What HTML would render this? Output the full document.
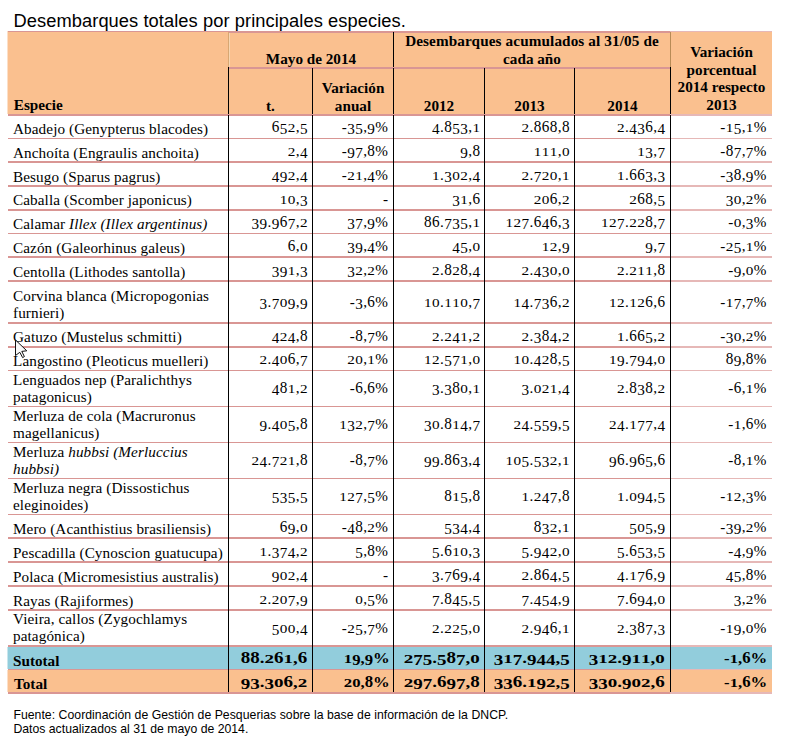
<!DOCTYPE html>
<html><head><meta charset="utf-8"><style>
html,body{margin:0;padding:0;background:#fff;width:785px;height:745px;overflow:hidden;position:relative}
.t{position:absolute;line-height:0;white-space:nowrap;font-family:'Liberation Serif', serif;font-size:15.2px;color:#000}
svg{position:absolute;left:0;top:0}
.ox{display:inline-block;transform:scaleY(0.8);transform-origin:50% 0.3375em}
.od{position:relative;top:0.15em}
.oa{display:inline-block;transform:scaleY(1.04);transform-origin:50% 0.3375em}
</style></head><body>
<svg width="785" height="745" shape-rendering="crispEdges">
<rect x="7.5" y="31" width="764.5" height="83" fill="#FAC08F" shape-rendering="auto"/>
<rect x="7.5" y="647" width="764.5" height="22" fill="#92CDDC" shape-rendering="auto"/>
<rect x="7.5" y="670" width="764.5" height="22" fill="#FAC08F" shape-rendering="auto"/>
<rect x="8" y="138" width="662" height="1" fill="#D99694"/>
<rect x="670" y="138" width="102" height="1" fill="#E6B8B7"/>
<rect x="8" y="161" width="662" height="2" fill="#D99694"/>
<rect x="670" y="161" width="102" height="2" fill="#E6B8B7"/>
<rect x="8" y="185" width="662" height="2" fill="#D99694"/>
<rect x="670" y="185" width="102" height="2" fill="#E6B8B7"/>
<rect x="8" y="209" width="662" height="2" fill="#D99694"/>
<rect x="670" y="209" width="102" height="2" fill="#E6B8B7"/>
<rect x="8" y="233" width="662" height="1" fill="#D99694"/>
<rect x="670" y="233" width="102" height="1" fill="#E6B8B7"/>
<rect x="8" y="256" width="662" height="2" fill="#D99694"/>
<rect x="670" y="256" width="102" height="2" fill="#E6B8B7"/>
<rect x="8" y="280" width="662" height="2" fill="#D99694"/>
<rect x="670" y="280" width="102" height="2" fill="#E6B8B7"/>
<rect x="8" y="322" width="662" height="2" fill="#D99694"/>
<rect x="670" y="322" width="102" height="2" fill="#E6B8B7"/>
<rect x="8" y="346" width="662" height="2" fill="#D99694"/>
<rect x="670" y="346" width="102" height="2" fill="#E6B8B7"/>
<rect x="8" y="370" width="662" height="1" fill="#D99694"/>
<rect x="670" y="370" width="102" height="1" fill="#E6B8B7"/>
<rect x="8" y="406" width="662" height="1" fill="#D99694"/>
<rect x="670" y="406" width="102" height="1" fill="#E6B8B7"/>
<rect x="8" y="442" width="662" height="1" fill="#D99694"/>
<rect x="670" y="442" width="102" height="1" fill="#E6B8B7"/>
<rect x="8" y="478" width="662" height="1" fill="#D99694"/>
<rect x="670" y="478" width="102" height="1" fill="#E6B8B7"/>
<rect x="8" y="514" width="662" height="1" fill="#D99694"/>
<rect x="670" y="514" width="102" height="1" fill="#E6B8B7"/>
<rect x="8" y="537" width="662" height="2" fill="#D99694"/>
<rect x="670" y="537" width="102" height="2" fill="#E6B8B7"/>
<rect x="8" y="561" width="662" height="2" fill="#D99694"/>
<rect x="670" y="561" width="102" height="2" fill="#E6B8B7"/>
<rect x="8" y="585" width="662" height="2" fill="#D99694"/>
<rect x="670" y="585" width="102" height="2" fill="#E6B8B7"/>
<rect x="8" y="609" width="662" height="2" fill="#D99694"/>
<rect x="670" y="609" width="102" height="2" fill="#E6B8B7"/>
<rect x="8" y="645" width="662" height="2" fill="#D99694"/>
<rect x="670" y="645" width="102" height="2" fill="#E6B8B7"/>
<rect x="8" y="669" width="662" height="1" fill="#D99694"/>
<rect x="670" y="669" width="102" height="1" fill="#E6B8B7"/>
<rect x="8" y="692" width="662" height="2" fill="#D99694"/>
<rect x="670" y="692" width="102" height="2" fill="#E6B8B7"/>
<rect x="229" y="32" width="441" height="1" fill="#D99694"/>
<rect x="8" y="115" width="662" height="1" fill="#D99694"/>
<rect x="670" y="115" width="102" height="1" fill="#E6B8B7"/>
<rect x="229" y="67" width="441" height="2" fill="#D99694"/>
<rect x="228" y="32" width="1" height="35" fill="#D7A773"/>
<rect x="229" y="33" width="1" height="34" fill="#F7D6B2"/>
<rect x="228" y="67" width="1" height="625" fill="#000"/>
<rect x="312" y="68" width="1" height="624" fill="#000"/>
<rect x="484" y="68" width="1" height="624" fill="#000"/>
<rect x="574" y="68" width="1" height="624" fill="#000"/>
<rect x="393" y="32" width="1" height="35" fill="#000"/>
<rect x="393" y="68" width="1" height="624" fill="#000"/>
<rect x="670" y="32" width="1" height="35" fill="#B88B56"/>
<rect x="670" y="67" width="1" height="625" fill="#000"/>
<rect x="8" y="31" width="662" height="1" fill="#D99694"/>
<rect x="670" y="31" width="102" height="1" fill="#E6B8B7"/>
<rect x="8" y="114" width="662" height="1" fill="#D99694"/>
<rect x="670" y="114" width="102" height="1" fill="#E6B8B7"/>
</svg>
<div class="t" style="top:20.76px;font-size:18.3px;font-family:'Liberation Sans', sans-serif;letter-spacing:0.07px;left:13.50px;">Desembarques totales por principales especies.</div>
<div class="t" style="top:104.97px;font-weight:bold;left:13.80px;">Especie</div>
<div class="t" style="top:58.97px;font-weight:bold;left:229.00px;width:164.00px;text-align:center;">Mayo de 2014</div>
<div class="t" style="top:40.97px;font-weight:bold;letter-spacing:0.12px;left:394.00px;width:276.00px;text-align:center;">Desembarques acumulados al 31/05 de</div>
<div class="t" style="top:58.97px;font-weight:bold;left:394.00px;width:276.00px;text-align:center;">cada año</div>
<div class="t" style="top:105.97px;font-weight:bold;left:229.00px;width:83.00px;text-align:center;">t.</div>
<div class="t" style="top:87.97px;font-weight:bold;left:313.00px;width:80.00px;text-align:center;">Variación</div>
<div class="t" style="top:105.97px;font-weight:bold;left:313.00px;width:80.00px;text-align:center;">anual</div>
<div class="t" style="top:105.97px;font-weight:bold;left:394.00px;width:90.00px;text-align:center;">2012</div>
<div class="t" style="top:105.97px;font-weight:bold;left:485.00px;width:89.00px;text-align:center;">2013</div>
<div class="t" style="top:105.97px;font-weight:bold;left:575.00px;width:95.00px;text-align:center;">2014</div>
<div class="t" style="top:51.97px;font-weight:bold;left:671.00px;width:101.00px;text-align:center;">Variación</div>
<div class="t" style="top:69.97px;font-weight:bold;left:671.00px;width:101.00px;text-align:center;">porcentual</div>
<div class="t" style="top:86.97px;font-weight:bold;left:671.00px;width:101.00px;text-align:center;">2014 respecto</div>
<div class="t" style="top:104.97px;font-weight:bold;left:671.00px;width:101.00px;text-align:center;">2013</div>
<div class="t" style="top:128.97px;letter-spacing:0.1px;left:13.00px;">Abadejo (Genypterus blacodes)</div>
<div class="t" style="top:126.97px;letter-spacing:0.4px;right:477.10px;text-align:right;"><span class="oa">6</span><span class="od">5</span><span class="ox">2</span>,<span class="od">5</span></div>
<div class="t" style="top:126.97px;letter-spacing:0.4px;right:396.60px;text-align:right;">-<span class="od">3</span><span class="od">5</span>,<span class="od">9</span>%</div>
<div class="t" style="top:126.97px;letter-spacing:0.4px;right:304.60px;text-align:right;"><span class="od">4</span>.<span class="oa">8</span><span class="od">5</span><span class="od">3</span>,<span class="ox">1</span></div>
<div class="t" style="top:126.97px;letter-spacing:0.4px;right:215.10px;text-align:right;"><span class="ox">2</span>.<span class="oa">8</span><span class="oa">6</span><span class="oa">8</span>,<span class="oa">8</span></div>
<div class="t" style="top:126.97px;letter-spacing:0.4px;right:119.60px;text-align:right;"><span class="ox">2</span>.<span class="od">4</span><span class="od">3</span><span class="oa">6</span>,<span class="od">4</span></div>
<div class="t" style="top:126.97px;letter-spacing:0.4px;right:18.10px;text-align:right;">-<span class="ox">1</span><span class="od">5</span>,<span class="ox">1</span>%</div>
<div class="t" style="top:152.97px;letter-spacing:0.1px;left:13.00px;">Anchoíta (Engraulis anchoita)</div>
<div class="t" style="top:150.97px;letter-spacing:0.4px;right:477.10px;text-align:right;"><span class="ox">2</span>,<span class="od">4</span></div>
<div class="t" style="top:150.97px;letter-spacing:0.4px;right:396.60px;text-align:right;">-<span class="od">9</span><span class="od">7</span>,<span class="oa">8</span>%</div>
<div class="t" style="top:150.97px;letter-spacing:0.4px;right:304.60px;text-align:right;"><span class="od">9</span>,<span class="oa">8</span></div>
<div class="t" style="top:150.97px;letter-spacing:0.4px;right:215.10px;text-align:right;"><span class="ox">1</span><span class="ox">1</span><span class="ox">1</span>,<span class="ox">0</span></div>
<div class="t" style="top:150.97px;letter-spacing:0.4px;right:119.60px;text-align:right;"><span class="ox">1</span><span class="od">3</span>,<span class="od">7</span></div>
<div class="t" style="top:150.97px;letter-spacing:0.4px;right:18.10px;text-align:right;">-<span class="oa">8</span><span class="od">7</span>,<span class="od">7</span>%</div>
<div class="t" style="top:176.97px;letter-spacing:0.1px;left:13.00px;">Besugo (Sparus pagrus)</div>
<div class="t" style="top:174.97px;letter-spacing:0.4px;right:477.10px;text-align:right;"><span class="od">4</span><span class="od">9</span><span class="ox">2</span>,<span class="od">4</span></div>
<div class="t" style="top:174.97px;letter-spacing:0.4px;right:396.60px;text-align:right;">-<span class="ox">2</span><span class="ox">1</span>,<span class="od">4</span>%</div>
<div class="t" style="top:174.97px;letter-spacing:0.4px;right:304.60px;text-align:right;"><span class="ox">1</span>.<span class="od">3</span><span class="ox">0</span><span class="ox">2</span>,<span class="od">4</span></div>
<div class="t" style="top:174.97px;letter-spacing:0.4px;right:215.10px;text-align:right;"><span class="ox">2</span>.<span class="od">7</span><span class="ox">2</span><span class="ox">0</span>,<span class="ox">1</span></div>
<div class="t" style="top:174.97px;letter-spacing:0.4px;right:119.60px;text-align:right;"><span class="ox">1</span>.<span class="oa">6</span><span class="oa">6</span><span class="od">3</span>,<span class="od">3</span></div>
<div class="t" style="top:174.97px;letter-spacing:0.4px;right:18.10px;text-align:right;">-<span class="od">3</span><span class="oa">8</span>,<span class="od">9</span>%</div>
<div class="t" style="top:199.97px;letter-spacing:0.1px;left:13.00px;">Caballa (Scomber japonicus)</div>
<div class="t" style="top:198.97px;letter-spacing:0.4px;right:477.10px;text-align:right;"><span class="ox">1</span><span class="ox">0</span>,<span class="od">3</span></div>
<div class="t" style="top:198.97px;letter-spacing:0.4px;right:396.60px;text-align:right;">-</div>
<div class="t" style="top:198.97px;letter-spacing:0.4px;right:304.60px;text-align:right;"><span class="od">3</span><span class="ox">1</span>,<span class="oa">6</span></div>
<div class="t" style="top:198.97px;letter-spacing:0.4px;right:215.10px;text-align:right;"><span class="ox">2</span><span class="ox">0</span><span class="oa">6</span>,<span class="ox">2</span></div>
<div class="t" style="top:198.97px;letter-spacing:0.4px;right:119.60px;text-align:right;"><span class="ox">2</span><span class="oa">6</span><span class="oa">8</span>,<span class="od">5</span></div>
<div class="t" style="top:198.97px;letter-spacing:0.4px;right:18.10px;text-align:right;"><span class="od">3</span><span class="ox">0</span>,<span class="ox">2</span>%</div>
<div class="t" style="top:223.97px;letter-spacing:0.1px;left:13.00px;">Calamar <i>Illex (Illex argentinus)</i></div>
<div class="t" style="top:221.97px;letter-spacing:0.4px;right:477.10px;text-align:right;"><span class="od">3</span><span class="od">9</span>.<span class="od">9</span><span class="oa">6</span><span class="od">7</span>,<span class="ox">2</span></div>
<div class="t" style="top:221.97px;letter-spacing:0.4px;right:396.60px;text-align:right;"><span class="od">3</span><span class="od">7</span>,<span class="od">9</span>%</div>
<div class="t" style="top:221.97px;letter-spacing:0.4px;right:304.60px;text-align:right;"><span class="oa">8</span><span class="oa">6</span>.<span class="od">7</span><span class="od">3</span><span class="od">5</span>,<span class="ox">1</span></div>
<div class="t" style="top:221.97px;letter-spacing:0.4px;right:215.10px;text-align:right;"><span class="ox">1</span><span class="ox">2</span><span class="od">7</span>.<span class="oa">6</span><span class="od">4</span><span class="oa">6</span>,<span class="od">3</span></div>
<div class="t" style="top:221.97px;letter-spacing:0.4px;right:119.60px;text-align:right;"><span class="ox">1</span><span class="ox">2</span><span class="od">7</span>.<span class="ox">2</span><span class="ox">2</span><span class="oa">8</span>,<span class="od">7</span></div>
<div class="t" style="top:221.97px;letter-spacing:0.4px;right:18.10px;text-align:right;">-<span class="ox">0</span>,<span class="od">3</span>%</div>
<div class="t" style="top:247.97px;letter-spacing:0.1px;left:13.00px;">Cazón (Galeorhinus galeus)</div>
<div class="t" style="top:245.97px;letter-spacing:0.4px;right:477.10px;text-align:right;"><span class="oa">6</span>,<span class="ox">0</span></div>
<div class="t" style="top:245.97px;letter-spacing:0.4px;right:396.60px;text-align:right;"><span class="od">3</span><span class="od">9</span>,<span class="od">4</span>%</div>
<div class="t" style="top:245.97px;letter-spacing:0.4px;right:304.60px;text-align:right;"><span class="od">4</span><span class="od">5</span>,<span class="ox">0</span></div>
<div class="t" style="top:245.97px;letter-spacing:0.4px;right:215.10px;text-align:right;"><span class="ox">1</span><span class="ox">2</span>,<span class="od">9</span></div>
<div class="t" style="top:245.97px;letter-spacing:0.4px;right:119.60px;text-align:right;"><span class="od">9</span>,<span class="od">7</span></div>
<div class="t" style="top:245.97px;letter-spacing:0.4px;right:18.10px;text-align:right;">-<span class="ox">2</span><span class="od">5</span>,<span class="ox">1</span>%</div>
<div class="t" style="top:271.97px;letter-spacing:0.1px;left:13.00px;">Centolla (Lithodes santolla)</div>
<div class="t" style="top:269.97px;letter-spacing:0.4px;right:477.10px;text-align:right;"><span class="od">3</span><span class="od">9</span><span class="ox">1</span>,<span class="od">3</span></div>
<div class="t" style="top:269.97px;letter-spacing:0.4px;right:396.60px;text-align:right;"><span class="od">3</span><span class="ox">2</span>,<span class="ox">2</span>%</div>
<div class="t" style="top:269.97px;letter-spacing:0.4px;right:304.60px;text-align:right;"><span class="ox">2</span>.<span class="oa">8</span><span class="ox">2</span><span class="oa">8</span>,<span class="od">4</span></div>
<div class="t" style="top:269.97px;letter-spacing:0.4px;right:215.10px;text-align:right;"><span class="ox">2</span>.<span class="od">4</span><span class="od">3</span><span class="ox">0</span>,<span class="ox">0</span></div>
<div class="t" style="top:269.97px;letter-spacing:0.4px;right:119.60px;text-align:right;"><span class="ox">2</span>.<span class="ox">2</span><span class="ox">1</span><span class="ox">1</span>,<span class="oa">8</span></div>
<div class="t" style="top:269.97px;letter-spacing:0.4px;right:18.10px;text-align:right;">-<span class="od">9</span>,<span class="ox">0</span>%</div>
<div class="t" style="top:295.97px;letter-spacing:0.1px;left:13.00px;">Corvina blanca (Micropogonias</div>
<div class="t" style="top:312.97px;letter-spacing:0.1px;left:13.00px;">furnieri)</div>
<div class="t" style="top:301.97px;letter-spacing:0.4px;right:477.10px;text-align:right;"><span class="od">3</span>.<span class="od">7</span><span class="ox">0</span><span class="od">9</span>,<span class="od">9</span></div>
<div class="t" style="top:301.97px;letter-spacing:0.4px;right:396.60px;text-align:right;">-<span class="od">3</span>,<span class="oa">6</span>%</div>
<div class="t" style="top:301.97px;letter-spacing:0.4px;right:304.60px;text-align:right;"><span class="ox">1</span><span class="ox">0</span>.<span class="ox">1</span><span class="ox">1</span><span class="ox">0</span>,<span class="od">7</span></div>
<div class="t" style="top:301.97px;letter-spacing:0.4px;right:215.10px;text-align:right;"><span class="ox">1</span><span class="od">4</span>.<span class="od">7</span><span class="od">3</span><span class="oa">6</span>,<span class="ox">2</span></div>
<div class="t" style="top:301.97px;letter-spacing:0.4px;right:119.60px;text-align:right;"><span class="ox">1</span><span class="ox">2</span>.<span class="ox">1</span><span class="ox">2</span><span class="oa">6</span>,<span class="oa">6</span></div>
<div class="t" style="top:301.97px;letter-spacing:0.4px;right:18.10px;text-align:right;">-<span class="ox">1</span><span class="od">7</span>,<span class="od">7</span>%</div>
<div class="t" style="top:336.97px;letter-spacing:0.1px;left:13.00px;">Gatuzo (Mustelus schmitti)</div>
<div class="t" style="top:335.97px;letter-spacing:0.4px;right:477.10px;text-align:right;"><span class="od">4</span><span class="ox">2</span><span class="od">4</span>,<span class="oa">8</span></div>
<div class="t" style="top:335.97px;letter-spacing:0.4px;right:396.60px;text-align:right;">-<span class="oa">8</span>,<span class="od">7</span>%</div>
<div class="t" style="top:335.97px;letter-spacing:0.4px;right:304.60px;text-align:right;"><span class="ox">2</span>.<span class="ox">2</span><span class="od">4</span><span class="ox">1</span>,<span class="ox">2</span></div>
<div class="t" style="top:335.97px;letter-spacing:0.4px;right:215.10px;text-align:right;"><span class="ox">2</span>.<span class="od">3</span><span class="oa">8</span><span class="od">4</span>,<span class="ox">2</span></div>
<div class="t" style="top:335.97px;letter-spacing:0.4px;right:119.60px;text-align:right;"><span class="ox">1</span>.<span class="oa">6</span><span class="oa">6</span><span class="od">5</span>,<span class="ox">2</span></div>
<div class="t" style="top:335.97px;letter-spacing:0.4px;right:18.10px;text-align:right;">-<span class="od">3</span><span class="ox">0</span>,<span class="ox">2</span>%</div>
<div class="t" style="top:360.97px;letter-spacing:0.1px;left:13.00px;">Langostino (Pleoticus muelleri)</div>
<div class="t" style="top:358.97px;letter-spacing:0.4px;right:477.10px;text-align:right;"><span class="ox">2</span>.<span class="od">4</span><span class="ox">0</span><span class="oa">6</span>,<span class="od">7</span></div>
<div class="t" style="top:358.97px;letter-spacing:0.4px;right:396.60px;text-align:right;"><span class="ox">2</span><span class="ox">0</span>,<span class="ox">1</span>%</div>
<div class="t" style="top:358.97px;letter-spacing:0.4px;right:304.60px;text-align:right;"><span class="ox">1</span><span class="ox">2</span>.<span class="od">5</span><span class="od">7</span><span class="ox">1</span>,<span class="ox">0</span></div>
<div class="t" style="top:358.97px;letter-spacing:0.4px;right:215.10px;text-align:right;"><span class="ox">1</span><span class="ox">0</span>.<span class="od">4</span><span class="ox">2</span><span class="oa">8</span>,<span class="od">5</span></div>
<div class="t" style="top:358.97px;letter-spacing:0.4px;right:119.60px;text-align:right;"><span class="ox">1</span><span class="od">9</span>.<span class="od">7</span><span class="od">9</span><span class="od">4</span>,<span class="ox">0</span></div>
<div class="t" style="top:358.97px;letter-spacing:0.4px;right:18.10px;text-align:right;"><span class="oa">8</span><span class="od">9</span>,<span class="oa">8</span>%</div>
<div class="t" style="top:379.97px;letter-spacing:0.1px;left:13.00px;">Lenguados nep (Paralichthys</div>
<div class="t" style="top:396.97px;letter-spacing:0.1px;left:13.00px;">patagonicus)</div>
<div class="t" style="top:387.97px;letter-spacing:0.4px;right:477.10px;text-align:right;"><span class="od">4</span><span class="oa">8</span><span class="ox">1</span>,<span class="ox">2</span></div>
<div class="t" style="top:387.97px;letter-spacing:0.4px;right:396.60px;text-align:right;">-<span class="oa">6</span>,<span class="oa">6</span>%</div>
<div class="t" style="top:387.97px;letter-spacing:0.4px;right:304.60px;text-align:right;"><span class="od">3</span>.<span class="od">3</span><span class="oa">8</span><span class="ox">0</span>,<span class="ox">1</span></div>
<div class="t" style="top:387.97px;letter-spacing:0.4px;right:215.10px;text-align:right;"><span class="od">3</span>.<span class="ox">0</span><span class="ox">2</span><span class="ox">1</span>,<span class="od">4</span></div>
<div class="t" style="top:387.97px;letter-spacing:0.4px;right:119.60px;text-align:right;"><span class="ox">2</span>.<span class="oa">8</span><span class="od">3</span><span class="oa">8</span>,<span class="ox">2</span></div>
<div class="t" style="top:387.97px;letter-spacing:0.4px;right:18.10px;text-align:right;">-<span class="oa">6</span>,<span class="ox">1</span>%</div>
<div class="t" style="top:415.97px;letter-spacing:0.1px;left:13.00px;">Merluza de cola (Macruronus</div>
<div class="t" style="top:432.97px;letter-spacing:0.1px;left:13.00px;">magellanicus)</div>
<div class="t" style="top:423.97px;letter-spacing:0.4px;right:477.10px;text-align:right;"><span class="od">9</span>.<span class="od">4</span><span class="ox">0</span><span class="od">5</span>,<span class="oa">8</span></div>
<div class="t" style="top:423.97px;letter-spacing:0.4px;right:396.60px;text-align:right;"><span class="ox">1</span><span class="od">3</span><span class="ox">2</span>,<span class="od">7</span>%</div>
<div class="t" style="top:423.97px;letter-spacing:0.4px;right:304.60px;text-align:right;"><span class="od">3</span><span class="ox">0</span>.<span class="oa">8</span><span class="ox">1</span><span class="od">4</span>,<span class="od">7</span></div>
<div class="t" style="top:423.97px;letter-spacing:0.4px;right:215.10px;text-align:right;"><span class="ox">2</span><span class="od">4</span>.<span class="od">5</span><span class="od">5</span><span class="od">9</span>,<span class="od">5</span></div>
<div class="t" style="top:423.97px;letter-spacing:0.4px;right:119.60px;text-align:right;"><span class="ox">2</span><span class="od">4</span>.<span class="ox">1</span><span class="od">7</span><span class="od">7</span>,<span class="od">4</span></div>
<div class="t" style="top:423.97px;letter-spacing:0.4px;right:18.10px;text-align:right;">-<span class="ox">1</span>,<span class="oa">6</span>%</div>
<div class="t" style="top:451.97px;letter-spacing:0.1px;left:13.00px;">Merluza <i>hubbsi (Merluccius</i></div>
<div class="t" style="top:468.97px;letter-spacing:0.1px;left:13.00px;"><i>hubbsi)</i></div>
<div class="t" style="top:459.97px;letter-spacing:0.4px;right:477.10px;text-align:right;"><span class="ox">2</span><span class="od">4</span>.<span class="od">7</span><span class="ox">2</span><span class="ox">1</span>,<span class="oa">8</span></div>
<div class="t" style="top:459.97px;letter-spacing:0.4px;right:396.60px;text-align:right;">-<span class="oa">8</span>,<span class="od">7</span>%</div>
<div class="t" style="top:459.97px;letter-spacing:0.4px;right:304.60px;text-align:right;"><span class="od">9</span><span class="od">9</span>.<span class="oa">8</span><span class="oa">6</span><span class="od">3</span>,<span class="od">4</span></div>
<div class="t" style="top:459.97px;letter-spacing:0.4px;right:215.10px;text-align:right;"><span class="ox">1</span><span class="ox">0</span><span class="od">5</span>.<span class="od">5</span><span class="od">3</span><span class="ox">2</span>,<span class="ox">1</span></div>
<div class="t" style="top:459.97px;letter-spacing:0.4px;right:119.60px;text-align:right;"><span class="od">9</span><span class="oa">6</span>.<span class="od">9</span><span class="oa">6</span><span class="od">5</span>,<span class="oa">6</span></div>
<div class="t" style="top:459.97px;letter-spacing:0.4px;right:18.10px;text-align:right;">-<span class="oa">8</span>,<span class="ox">1</span>%</div>
<div class="t" style="top:487.97px;letter-spacing:0.1px;left:13.00px;">Merluza negra (Dissostichus</div>
<div class="t" style="top:504.97px;letter-spacing:0.1px;left:13.00px;">eleginoides)</div>
<div class="t" style="top:495.97px;letter-spacing:0.4px;right:477.10px;text-align:right;"><span class="od">5</span><span class="od">3</span><span class="od">5</span>,<span class="od">5</span></div>
<div class="t" style="top:495.97px;letter-spacing:0.4px;right:396.60px;text-align:right;"><span class="ox">1</span><span class="ox">2</span><span class="od">7</span>,<span class="od">5</span>%</div>
<div class="t" style="top:495.97px;letter-spacing:0.4px;right:304.60px;text-align:right;"><span class="oa">8</span><span class="ox">1</span><span class="od">5</span>,<span class="oa">8</span></div>
<div class="t" style="top:495.97px;letter-spacing:0.4px;right:215.10px;text-align:right;"><span class="ox">1</span>.<span class="ox">2</span><span class="od">4</span><span class="od">7</span>,<span class="oa">8</span></div>
<div class="t" style="top:495.97px;letter-spacing:0.4px;right:119.60px;text-align:right;"><span class="ox">1</span>.<span class="ox">0</span><span class="od">9</span><span class="od">4</span>,<span class="od">5</span></div>
<div class="t" style="top:495.97px;letter-spacing:0.4px;right:18.10px;text-align:right;">-<span class="ox">1</span><span class="ox">2</span>,<span class="od">3</span>%</div>
<div class="t" style="top:528.97px;letter-spacing:0.1px;left:13.00px;">Mero (Acanthistius brasiliensis)</div>
<div class="t" style="top:526.97px;letter-spacing:0.4px;right:477.10px;text-align:right;"><span class="oa">6</span><span class="od">9</span>,<span class="ox">0</span></div>
<div class="t" style="top:526.97px;letter-spacing:0.4px;right:396.60px;text-align:right;">-<span class="od">4</span><span class="oa">8</span>,<span class="ox">2</span>%</div>
<div class="t" style="top:526.97px;letter-spacing:0.4px;right:304.60px;text-align:right;"><span class="od">5</span><span class="od">3</span><span class="od">4</span>,<span class="od">4</span></div>
<div class="t" style="top:526.97px;letter-spacing:0.4px;right:215.10px;text-align:right;"><span class="oa">8</span><span class="od">3</span><span class="ox">2</span>,<span class="ox">1</span></div>
<div class="t" style="top:526.97px;letter-spacing:0.4px;right:119.60px;text-align:right;"><span class="od">5</span><span class="ox">0</span><span class="od">5</span>,<span class="od">9</span></div>
<div class="t" style="top:526.97px;letter-spacing:0.4px;right:18.10px;text-align:right;">-<span class="od">3</span><span class="od">9</span>,<span class="ox">2</span>%</div>
<div class="t" style="top:552.97px;letter-spacing:0.1px;left:13.00px;">Pescadilla (Cynoscion guatucupa)</div>
<div class="t" style="top:550.97px;letter-spacing:0.4px;right:477.10px;text-align:right;"><span class="ox">1</span>.<span class="od">3</span><span class="od">7</span><span class="od">4</span>,<span class="ox">2</span></div>
<div class="t" style="top:550.97px;letter-spacing:0.4px;right:396.60px;text-align:right;"><span class="od">5</span>,<span class="oa">8</span>%</div>
<div class="t" style="top:550.97px;letter-spacing:0.4px;right:304.60px;text-align:right;"><span class="od">5</span>.<span class="oa">6</span><span class="ox">1</span><span class="ox">0</span>,<span class="od">3</span></div>
<div class="t" style="top:550.97px;letter-spacing:0.4px;right:215.10px;text-align:right;"><span class="od">5</span>.<span class="od">9</span><span class="od">4</span><span class="ox">2</span>,<span class="ox">0</span></div>
<div class="t" style="top:550.97px;letter-spacing:0.4px;right:119.60px;text-align:right;"><span class="od">5</span>.<span class="oa">6</span><span class="od">5</span><span class="od">3</span>,<span class="od">5</span></div>
<div class="t" style="top:550.97px;letter-spacing:0.4px;right:18.10px;text-align:right;">-<span class="od">4</span>,<span class="od">9</span>%</div>
<div class="t" style="top:576.97px;letter-spacing:0.1px;left:13.00px;">Polaca (Micromesistius australis)</div>
<div class="t" style="top:574.97px;letter-spacing:0.4px;right:477.10px;text-align:right;"><span class="od">9</span><span class="ox">0</span><span class="ox">2</span>,<span class="od">4</span></div>
<div class="t" style="top:574.97px;letter-spacing:0.4px;right:396.60px;text-align:right;">-</div>
<div class="t" style="top:574.97px;letter-spacing:0.4px;right:304.60px;text-align:right;"><span class="od">3</span>.<span class="od">7</span><span class="oa">6</span><span class="od">9</span>,<span class="od">4</span></div>
<div class="t" style="top:574.97px;letter-spacing:0.4px;right:215.10px;text-align:right;"><span class="ox">2</span>.<span class="oa">8</span><span class="oa">6</span><span class="od">4</span>,<span class="od">5</span></div>
<div class="t" style="top:574.97px;letter-spacing:0.4px;right:119.60px;text-align:right;"><span class="od">4</span>.<span class="ox">1</span><span class="od">7</span><span class="oa">6</span>,<span class="od">9</span></div>
<div class="t" style="top:574.97px;letter-spacing:0.4px;right:18.10px;text-align:right;"><span class="od">4</span><span class="od">5</span>,<span class="oa">8</span>%</div>
<div class="t" style="top:600.97px;letter-spacing:0.1px;left:13.00px;">Rayas (Rajiformes)</div>
<div class="t" style="top:598.97px;letter-spacing:0.4px;right:477.10px;text-align:right;"><span class="ox">2</span>.<span class="ox">2</span><span class="ox">0</span><span class="od">7</span>,<span class="od">9</span></div>
<div class="t" style="top:598.97px;letter-spacing:0.4px;right:396.60px;text-align:right;"><span class="ox">0</span>,<span class="od">5</span>%</div>
<div class="t" style="top:598.97px;letter-spacing:0.4px;right:304.60px;text-align:right;"><span class="od">7</span>.<span class="oa">8</span><span class="od">4</span><span class="od">5</span>,<span class="od">5</span></div>
<div class="t" style="top:598.97px;letter-spacing:0.4px;right:215.10px;text-align:right;"><span class="od">7</span>.<span class="od">4</span><span class="od">5</span><span class="od">4</span>,<span class="od">9</span></div>
<div class="t" style="top:598.97px;letter-spacing:0.4px;right:119.60px;text-align:right;"><span class="od">7</span>.<span class="oa">6</span><span class="od">9</span><span class="od">4</span>,<span class="ox">0</span></div>
<div class="t" style="top:598.97px;letter-spacing:0.4px;right:18.10px;text-align:right;"><span class="od">3</span>,<span class="ox">2</span>%</div>
<div class="t" style="top:618.97px;letter-spacing:0.1px;left:13.00px;">Vieira, callos (Zygochlamys</div>
<div class="t" style="top:635.97px;letter-spacing:0.1px;left:13.00px;">patagónica)</div>
<div class="t" style="top:627.97px;letter-spacing:0.4px;right:477.10px;text-align:right;"><span class="od">5</span><span class="ox">0</span><span class="ox">0</span>,<span class="od">4</span></div>
<div class="t" style="top:627.97px;letter-spacing:0.4px;right:396.60px;text-align:right;">-<span class="ox">2</span><span class="od">5</span>,<span class="od">7</span>%</div>
<div class="t" style="top:627.97px;letter-spacing:0.4px;right:304.60px;text-align:right;"><span class="ox">2</span>.<span class="ox">2</span><span class="ox">2</span><span class="od">5</span>,<span class="ox">0</span></div>
<div class="t" style="top:627.97px;letter-spacing:0.4px;right:215.10px;text-align:right;"><span class="ox">2</span>.<span class="od">9</span><span class="od">4</span><span class="oa">6</span>,<span class="ox">1</span></div>
<div class="t" style="top:627.97px;letter-spacing:0.4px;right:119.60px;text-align:right;"><span class="ox">2</span>.<span class="od">3</span><span class="oa">8</span><span class="od">7</span>,<span class="od">3</span></div>
<div class="t" style="top:627.97px;letter-spacing:0.4px;right:18.10px;text-align:right;">-<span class="ox">1</span><span class="od">9</span>,<span class="ox">0</span>%</div>
<div class="t" style="top:660.97px;font-weight:bold;left:13.00px;">Sutotal</div>
<div class="t" style="top:657.97px;font-weight:bold;right:477.50px;text-align:right;"><span style="display:inline-block;transform:scaleX(1.25);transform-origin:100% 50%"><span class="oa">8</span><span class="oa">8</span>.<span class="ox">2</span><span class="oa">6</span><span class="ox">1</span>,<span class="oa">6</span></span></div>
<div class="t" style="top:657.97px;font-weight:bold;right:395.00px;text-align:right;"><span style="display:inline-block;transform:scaleX(1.1);transform-origin:100% 50%"><span class="ox">1</span><span class="od">9</span>,<span class="od">9</span>%</span></div>
<div class="t" style="top:657.97px;font-weight:bold;right:305.00px;text-align:right;"><span style="display:inline-block;transform:scaleX(1.25);transform-origin:100% 50%"><span class="ox">2</span><span class="od">7</span><span class="od">5</span>.<span class="od">5</span><span class="oa">8</span><span class="od">7</span>,<span class="ox">0</span></span></div>
<div class="t" style="top:657.97px;font-weight:bold;right:215.50px;text-align:right;"><span style="display:inline-block;transform:scaleX(1.25);transform-origin:100% 50%"><span class="od">3</span><span class="ox">1</span><span class="od">7</span>.<span class="od">9</span><span class="od">4</span><span class="od">4</span>,<span class="od">5</span></span></div>
<div class="t" style="top:657.97px;font-weight:bold;right:120.00px;text-align:right;"><span style="display:inline-block;transform:scaleX(1.25);transform-origin:100% 50%"><span class="od">3</span><span class="ox">1</span><span class="ox">2</span>.<span class="od">9</span><span class="ox">1</span><span class="ox">1</span>,<span class="ox">0</span></span></div>
<div class="t" style="top:657.97px;font-weight:bold;right:17.50px;text-align:right;"><span style="display:inline-block;transform:scaleX(1.1);transform-origin:100% 50%">-<span class="ox">1</span>,<span class="oa">6</span>%</span></div>
<div class="t" style="top:683.97px;font-weight:bold;left:14.00px;">Total</div>
<div class="t" style="top:681.97px;font-weight:bold;right:477.50px;text-align:right;"><span style="display:inline-block;transform:scaleX(1.25);transform-origin:100% 50%"><span class="od">9</span><span class="od">3</span>.<span class="od">3</span><span class="ox">0</span><span class="oa">6</span>,<span class="ox">2</span></span></div>
<div class="t" style="top:681.97px;font-weight:bold;right:395.00px;text-align:right;"><span style="display:inline-block;transform:scaleX(1.1);transform-origin:100% 50%"><span class="ox">2</span><span class="ox">0</span>,<span class="oa">8</span>%</span></div>
<div class="t" style="top:681.97px;font-weight:bold;right:305.00px;text-align:right;"><span style="display:inline-block;transform:scaleX(1.25);transform-origin:100% 50%"><span class="ox">2</span><span class="od">9</span><span class="od">7</span>.<span class="oa">6</span><span class="od">9</span><span class="od">7</span>,<span class="oa">8</span></span></div>
<div class="t" style="top:681.97px;font-weight:bold;right:215.50px;text-align:right;"><span style="display:inline-block;transform:scaleX(1.25);transform-origin:100% 50%"><span class="od">3</span><span class="od">3</span><span class="oa">6</span>.<span class="ox">1</span><span class="od">9</span><span class="ox">2</span>,<span class="od">5</span></span></div>
<div class="t" style="top:681.97px;font-weight:bold;right:120.00px;text-align:right;"><span style="display:inline-block;transform:scaleX(1.25);transform-origin:100% 50%"><span class="od">3</span><span class="od">3</span><span class="ox">0</span>.<span class="od">9</span><span class="ox">0</span><span class="ox">2</span>,<span class="oa">6</span></span></div>
<div class="t" style="top:681.97px;font-weight:bold;right:17.50px;text-align:right;"><span style="display:inline-block;transform:scaleX(1.1);transform-origin:100% 50%">-<span class="ox">1</span>,<span class="oa">6</span>%</span></div>
<div class="t" style="top:714.86px;font-size:12.25px;font-family:'Liberation Sans', sans-serif;letter-spacing:0.03px;left:13.40px;">Fuente: Coordinación de Gestión de Pesquerias sobre la base de información de la DNCP.</div>
<div class="t" style="top:728.86px;font-size:12.25px;font-family:'Liberation Sans', sans-serif;left:13.40px;">Datos actualizados al 31 de mayo de 2014.</div>
<svg style="position:absolute;left:0;top:0" width="785" height="745"><path d="M15.5 340 L15.5 355.5 L19.8 352.3 L22.6 357.6 L24.4 356.6 L21.8 351.4 L26.8 350.8 Z" fill="#f8f8f8" stroke="#111" stroke-width="1" stroke-linejoin="miter"/></svg>
</body></html>
